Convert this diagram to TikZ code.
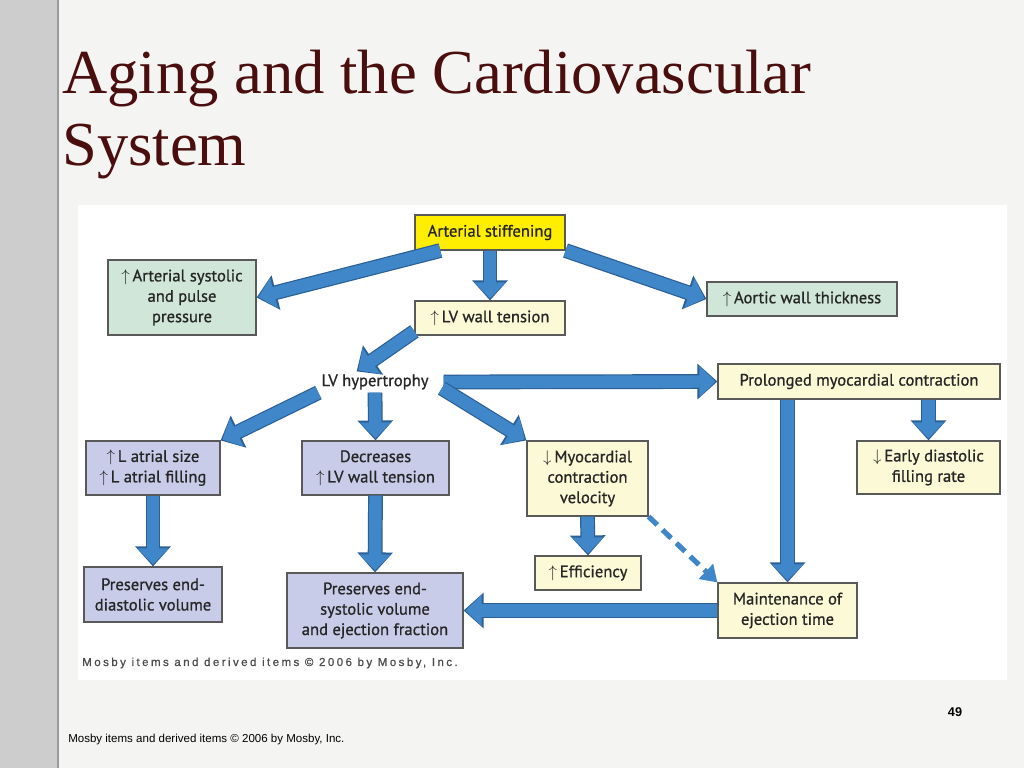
\documentclass[tikz,border=0pt]{standalone}
\usepackage{fontspec}
\usepackage{tikz}
\usetikzlibrary{shapes}
\usetikzlibrary{positioning}
\usetikzlibrary{arrows.meta}
\usepackage{xcolor}
\newfontfamily\boxfont[FakeBold=0.9]{PT Sans}
\newfontfamily\titlefont{Liberation Serif}
\newfontfamily\footfont{Liberation Sans}
\newfontfamily\creditfont[LetterSpace=21,FakeBold=0.9]{Liberation Sans}
\definecolor{slidebg}{HTML}{F4F4F2}
\definecolor{stripgray}{HTML}{CDCDCD}
\definecolor{titlered}{HTML}{4A0E0E}
\definecolor{stiffyellow}{HTML}{FFEE00}
\definecolor{boxgreen}{HTML}{CFE6D9}
\definecolor{boxcream}{HTML}{FCFAD6}
\definecolor{boxlav}{HTML}{C9CCE9}
\definecolor{arrblue}{HTML}{3F87C8}
\definecolor{arredge}{HTML}{2B5F95}
\tikzset{
  box/.style={draw=black!65, line width=0.8pt, font=\boxfont\fontsize{11.8}{14.5}\selectfont, text=black!85, align=center, inner sep=1pt},
  flow/.style={preaction={draw=arredge, line width=0.37cm, shorten >=0pt, -{Triangle[length=0.5cm,width=0.86cm]}}, draw=arrblue, line width=0.31cm, shorten >=0.05cm, -{Triangle[length=0.4cm,width=0.76cm]}},
  dashflow/.style={draw=arrblue, line width=0.13cm, dash pattern=on 0.3cm off 0.18cm, -{Triangle[length=0.4cm,width=0.5cm]}}
}

\begin{document}
\begin{tikzpicture}[x=0.025cm, y=-0.025cm]
\useasboundingbox (0,0) rectangle (1024,768);
% slide
\fill[slidebg] (0,0) rectangle (1024,768);
\fill[stripgray] (0,0) rectangle (57,768);
\draw[black!40, line width=1pt] (58,0) -- (58,768);
\fill[white] (78,205) rectangle (1007,680);

\node[anchor=base west, font=\titlefont\fontsize{44.5}{50}\selectfont, text=titlered, inner sep=0pt] (title) at (62,94) {Aging and the Cardiovascular};
\node[anchor=base west, font=\titlefont\fontsize{44.5}{50}\selectfont, text=titlered, inner sep=0pt] (title2) at (62,165) {System};

% boxes
\node[box, fill=stiffyellow, minimum width=3.75cm, minimum height=0.875cm] (stiff) at (490,232.5) {Arterial stiffening};
\node[box, fill=boxgreen, minimum width=3.7cm, minimum height=1.875cm] (syst) at (182,297.5) {$\uparrow$\,Arterial systolic\\and pulse\\pressure};
\node[box, fill=boxcream, minimum width=3.75cm, minimum height=0.85cm] (tens) at (490,318) {$\uparrow$\,LV wall tension};
\node[box, fill=boxgreen, minimum width=4.75cm, minimum height=0.85cm] (aortic) at (802,299) {$\uparrow$\,Aortic wall thickness};
\node[font=\boxfont\fontsize{11.8}{14.5}\selectfont, text=black!85, inner sep=2pt] (hyp) at (375,382) {LV hypertrophy};
\node[box, fill=boxcream, minimum width=7.05cm, minimum height=0.875cm] (prolong) at (859,381.5) {Prolonged myocardial contraction};
\node[box, fill=boxlav, minimum width=3.35cm, minimum height=1.35cm] (latrial) at (153,468) {$\uparrow$\,L atrial size\\$\uparrow$\,L atrial filling};
\node[box, fill=boxlav, minimum width=3.675cm, minimum height=1.35cm] (decr) at (375.5,468) {Decreases\\$\uparrow$\,LV wall tension};
\node[box, fill=boxcream, minimum width=3.025cm, minimum height=1.875cm] (velo) at (587.5,478.5) {$\downarrow$\,Myocardial\\contraction\\velocity};
\node[box, fill=boxcream, minimum width=3.575cm, minimum height=1.325cm] (early) at (928.5,467.5) {$\downarrow$\,Early diastolic\\filling rate};
\node[box, fill=boxlav, minimum width=3.45cm, minimum height=1.375cm] (edv) at (153,594.5) {Preserves end-\\diastolic volume};
\node[box, fill=boxlav, minimum width=4.4cm, minimum height=1.875cm] (esv) at (375,610.5) {Preserves end-\\systolic volume\\and ejection fraction};
\node[box, fill=boxcream, minimum width=2.65cm, minimum height=0.85cm] (effic) at (588,573) {$\uparrow$\,Efficiency};
\node[box, fill=boxcream, minimum width=3.475cm, minimum height=1.375cm] (maint) at (787.5,610.5) {Maintenance of\\ejection time};

% arrows
\draw[flow] (stiff.south) -- (tens.north);
\draw[flow] (stiff.200) -- (syst.east);
\draw[flow] (stiff.south east) -- (aortic.west);
\draw[flow] (tens.190) -- (hyp.150);
\draw[flow] (hyp.south west) -- (latrial.north east);
\draw[flow] (hyp.south) -- (decr.north);
\draw[flow, shorten <=0.3cm] (hyp.east) -- (prolong.west);
\draw[flow, shorten <=0.3cm] (hyp.east) -- (velo.north west);
\draw[flow] (early.north |- prolong.south) -- (early.north);
\draw[flow] (maint.north |- prolong.south) -- (maint.north);
\draw[flow] (velo.south) -- (effic.north);
\draw[flow] (maint.west) -- (esv.east);
\draw[flow] (latrial.south) -- (edv.north);
\draw[flow] (decr.south) -- (esv.north);
\draw[dashflow] (velo.south east) -- (maint.north west);

% credits
\node[anchor=west, font=\creditfont\fontsize{8.2}{9}\selectfont, text=black!70, inner sep=0pt] (credit) at (82,663) {Mosby items and derived items © 2006 by Mosby, Inc.};
\node[anchor=west, font=\footfont\fontsize{8.2}{9}\selectfont, inner sep=0pt] (foot) at (68,740) {Mosby items and derived items © 2006 by Mosby, Inc.};
\node[font=\footfont\bfseries\fontsize{9}{10}\selectfont, inner sep=0pt] (page) at (955,712) {49};
\end{tikzpicture}
\end{document}
